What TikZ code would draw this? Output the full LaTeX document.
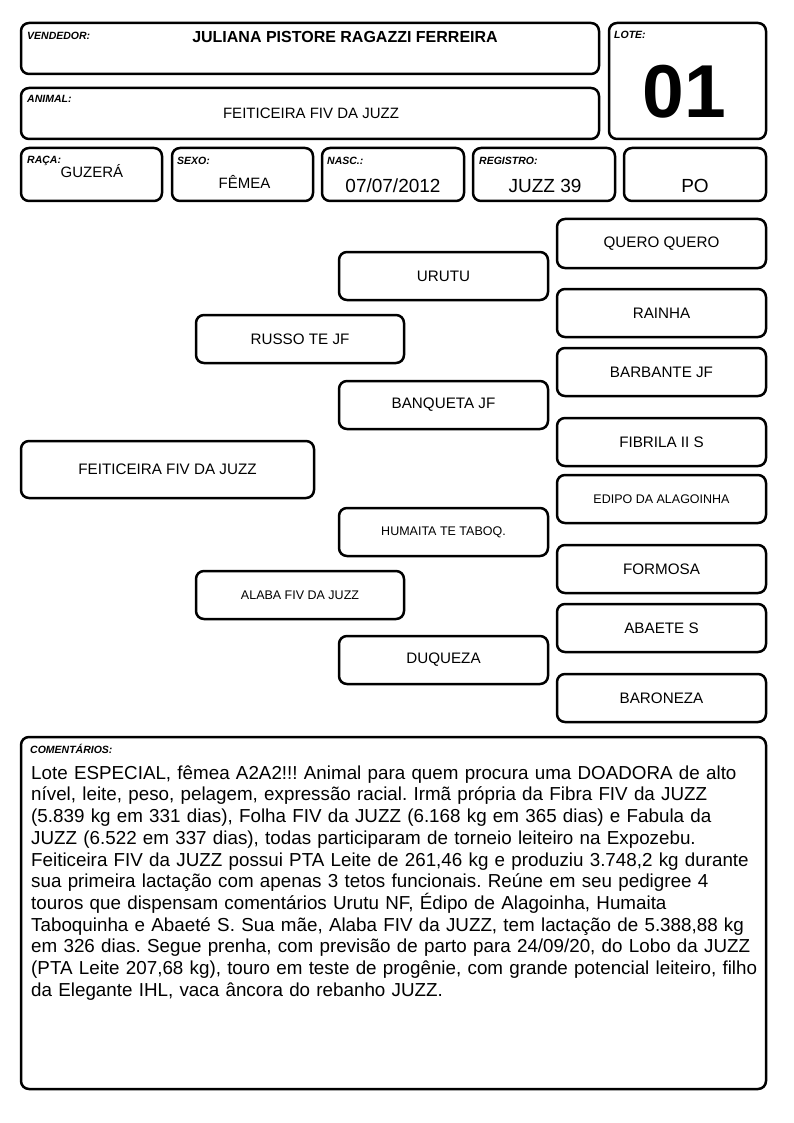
\documentclass[tikz,border=0pt]{standalone}
\usepackage{fontspec}
\setmainfont{Liberation Sans}
\frenchspacing
\begin{document}
\begin{tikzpicture}[x=1pt,y=-1pt,
  box/.style={draw, line width=2.5pt, rounded corners=8pt, inner sep=0pt, outer sep=0pt},
  pbox/.style={box, minimum width=209pt, minimum height=48pt, font=\fontsize{15.2}{18}\selectfont},
  sbox/.style={pbox, font=\fontsize{12.5}{15}\selectfont},
  lbl/.style={anchor=base west, inner sep=0pt, font=\fontsize{10.5}{12}\selectfont\bfseries\itshape},
  val/.style={anchor=base, inner sep=0pt, font=\fontsize{15}{18}\selectfont},
  bigval/.style={anchor=base, inner sep=0pt, font=\fontsize{19}{22}\selectfont}]
\useasboundingbox (0,0) rectangle (794,1123);
% header boxes
\node[box, minimum width=578pt, minimum height=51pt] (vend) at (310,48.5) {};
\node[box, minimum width=578pt, minimum height=51pt] (anim) at (310,113.5) {};
\node[box, minimum width=157pt, minimum height=116pt] (lote) at (687.5,81) {};
\node[box, minimum width=141pt, minimum height=53pt] (raca) at (91.5,174.5) {};
\node[box, minimum width=141pt, minimum height=53pt] (sexo) at (242.5,174.5) {};
\node[box, minimum width=142pt, minimum height=53pt] (nasc) at (393,174.5) {};
\node[box, minimum width=142pt, minimum height=53pt] (reg) at (544,174.5) {};
\node[box, minimum width=142pt, minimum height=53pt] (po) at (695,174.5) {};
% labels
\node[lbl] (lvend) at (27,39.5) {VENDEDOR:};
\node[lbl] (lanim) at (27,103) {ANIMAL:};
\node[lbl] (llote) at (614,38.5) {LOTE:};
\node[lbl] (lraca) at (27,163.5) {RAÇA:};
\node[lbl] (lsexo) at (177,165) {SEXO:};
\node[lbl] (lnasc) at (327,165) {NASC.:};
\node[lbl] (lreg) at (479,165) {REGISTRO:};
% values
\node[anchor=base, inner sep=0pt, font=\fontsize{16}{19}\selectfont\bfseries] (vvend) at (345,43) {JULIANA PISTORE RAGAZZI FERREIRA};
\node[val] (vanim) at (311,119) {FEITICEIRA FIV DA JUZZ};
\node[anchor=center, inner sep=0pt, font=\fontsize{75}{78}\selectfont\bfseries] (vlote) at (684.5,91.5) {01};
\node[val] (vraca) at (92,178) {GUZERÁ};
\node[val] (vsexo) at (244.5,189) {FÊMEA};
\node[bigval] (vnasc) at (393,193) {07/07/2012};
\node[bigval] (vreg) at (545,193) {JUZZ 39};
\node[bigval] (vpo) at (695,193) {PO};
% pedigree
\node[pbox, minimum width=293pt, minimum height=57pt] (feit) at (167.5,469.5) {FEITICEIRA FIV DA JUZZ};
\node[pbox, minimum width=208pt] (russo) at (300,339) {RUSSO TE JF};
\node[sbox, minimum width=208pt] (alaba) at (300,595) {ALABA FIV DA JUZZ};
\node[pbox] (urutu) at (443.5,276) {URUTU};
\node[pbox] (banq) at (443.5,405) {BANQUETA JF};
\node[sbox] (huma) at (443.5,532) {HUMAITA TE TABOQ.};
\node[pbox] (duq) at (443.5,660) {DUQUEZA};
\node[pbox, minimum height=49pt] (quero) at (661.5,243.5) {QUERO QUERO};
\node[pbox] (rainha) at (661.5,313) {RAINHA};
\node[pbox] (barb) at (661.5,372) {BARBANTE JF};
\node[pbox] (fibr) at (661.5,442) {FIBRILA II S};
\node[sbox] (edipo) at (661.5,499) {EDIPO DA ALAGOINHA};
\node[pbox] (form) at (661.5,569) {FORMOSA};
\node[pbox] (abae) at (661.5,628) {ABAETE S};
\node[pbox] (baro) at (661.5,698) {BARONEZA};
% comments
\node[box, minimum width=745pt, minimum height=352pt] (com) at (393.5,913) {};
\node[lbl] (lcom) at (30,753) {COMENTÁRIOS:};
\node[anchor=north west, inner sep=0pt, align=left, text width=740pt,
  font=\fontsize{18.8}{21.7}\selectfont] (tcom) at (31,759) {\rule{0pt}{20pt}Lote ESPECIAL, fêmea A2A2!!! Animal para quem procura uma DOADORA de alto\\
nível, leite, peso, pelagem, expressão racial. Irmã própria da Fibra FIV da JUZZ\\
(5.839 kg em 331 dias), Folha FIV da JUZZ (6.168 kg em 365 dias) e Fabula da\\
JUZZ (6.522 em 337 dias), todas participaram de torneio leiteiro na Expozebu.\\
Feiticeira FIV da JUZZ possui PTA Leite de 261,46 kg e produziu 3.748,2 kg durante\\
sua primeira lactação com apenas 3 tetos funcionais. Reúne em seu pedigree 4\\
touros que dispensam comentários Urutu NF, Édipo de Alagoinha, Humaita\\
Taboquinha e Abaeté S. Sua mãe, Alaba FIV da JUZZ, tem lactação de 5.388,88 kg\\
em 326 dias. Segue prenha, com previsão de parto para 24/09/20, do Lobo da JUZZ\\
(PTA Leite 207,68 kg), touro em teste de progênie, com grande potencial leiteiro, filho\\
da Elegante IHL, vaca âncora do rebanho JUZZ.};
\end{tikzpicture}
\end{document}
